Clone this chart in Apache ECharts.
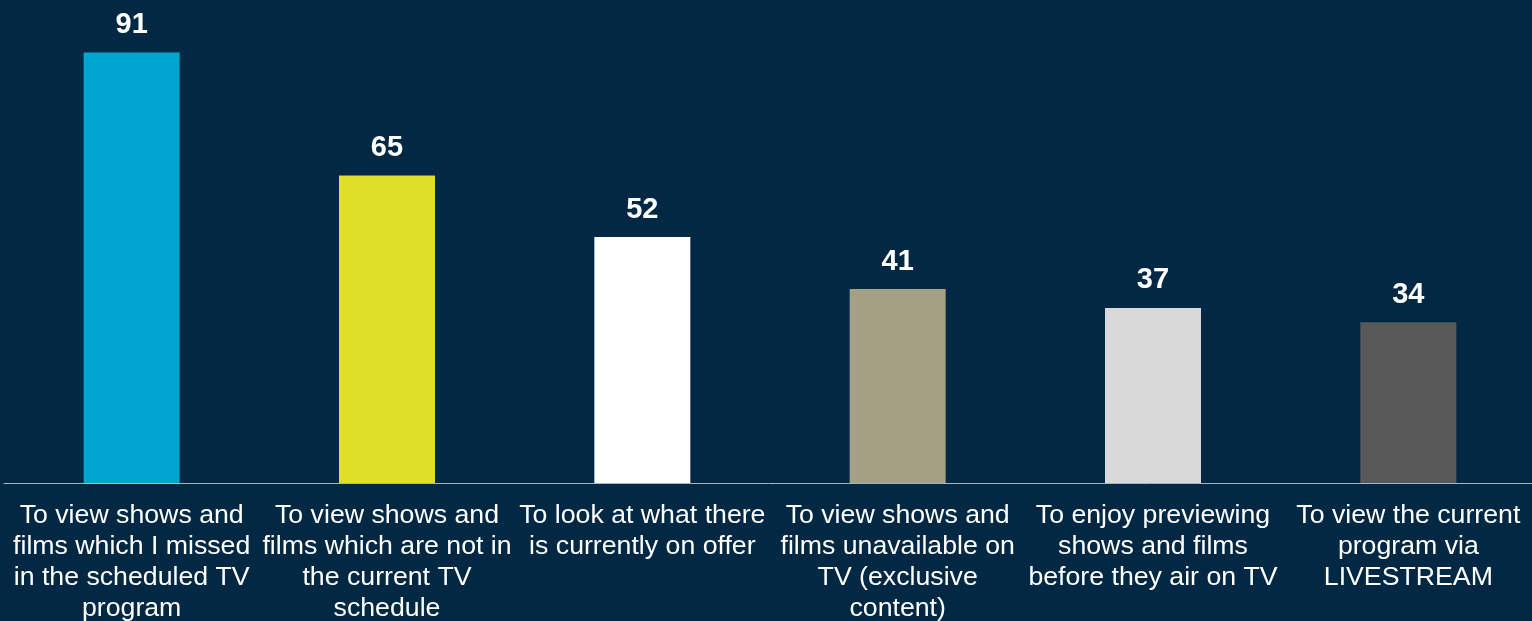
<!DOCTYPE html>
<html>
<head>
<meta charset="utf-8">
<script src="https://cdn.jsdelivr.net/npm/echarts@6/dist/echarts.min.js"></script>
<style>
  html, body { margin: 0; padding: 0; background: #022843; overflow: hidden; }
  #chart { width: 1532px; height: 621px; }
</style>
</head>
<body>
<div id="chart"></div>
<script>
// Reasons for using the streaming service (share of respondents)
const categories = [
  "To view shows and\nfilms which I missed\nin the scheduled TV\nprogram",
  "To view shows and\nfilms which are not in\nthe current TV\nschedule",
  "To look at what there\nis currently on offer",
  "To view shows and\nfilms unavailable on\nTV (exclusive\ncontent)",
  "To enjoy previewing\nshows and films\nbefore they air on TV",
  "To view the current\nprogram via\nLIVESTREAM"
];
const values = [91, 65, 52, 41, 37, 34];
const barColors = ["#00A6CE", "#DFDF29", "#FFFFFF", "#A59F86", "#D9D9D9", "#595959"];

const chart = echarts.init(document.getElementById('chart'));
chart.setOption({
  backgroundColor: '#022843',
  animation: false,
  grid: {
    left: 4, width: 1532, top: 10, bottom: 138,
    containLabel: false,
    outerBoundsMode: 'none'
  },
  xAxis: {
    type: 'category',
    data: categories,
    axisTick: { show: false },
    axisLine: { show: true, lineStyle: { color: '#A9B4BE', width: 1 } },
    axisLabel: {
      interval: 0,
      color: '#FFFFFF',
      fontFamily: 'Liberation Sans, Arial, sans-serif',
      fontSize: 26.7,
      lineHeight: 31,
      margin: 17,
      align: 'center'
    }
  },
  yAxis: { type: 'value', min: 0, max: 100, show: false, splitLine: { show: false } },
  series: [{
    type: 'bar',
    barWidth: 96,
    data: values.map((v, i) => ({ value: v, itemStyle: { color: barColors[i] } })),
    label: {
      show: true,
      position: 'top',
      distance: 13,
      color: '#FFFFFF',
      fontFamily: 'Liberation Sans, Arial, sans-serif',
      fontWeight: 'bold',
      fontSize: 29
    }
  }]
});
</script>
</body>
</html>
